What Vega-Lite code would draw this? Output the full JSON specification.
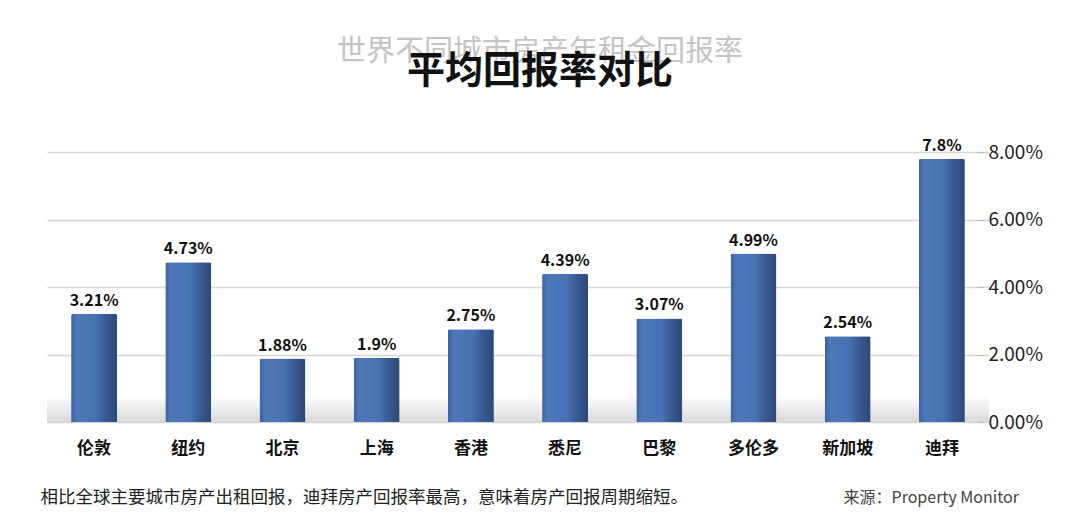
{
  "$schema": "https://vega.github.io/schema/vega-lite/v6.json",
  "autosize": "none",
  "width": 942,
  "height": 270,
  "padding": {"left": 47, "top": 152, "right": 91, "bottom": 92},
  "background": "white",
  "config": {
    "view": {"stroke": null},
    "font": "Noto Sans CJK SC"
  },
  "title": {
    "text": "世界不同城市房产年租金回报率",
    "subtitle": "平均回报率对比",
    "anchor": "middle",
    "dx": 22,
    "offset": 47,
    "fontSize": 29,
    "fontWeight": "normal",
    "color": "#c4c4c4",
    "subtitleFontSize": 38,
    "subtitleFontWeight": "bold",
    "subtitleColor": "#111111",
    "subtitlePadding": -14
  },
  "data": {
    "values": [
      {"city": "伦敦", "rate": 3.21, "label": "3.21%"},
      {"city": "纽约", "rate": 4.73, "label": "4.73%"},
      {"city": "北京", "rate": 1.88, "label": "1.88%"},
      {"city": "上海", "rate": 1.9, "label": "1.9%"},
      {"city": "香港", "rate": 2.75, "label": "2.75%"},
      {"city": "悉尼", "rate": 4.39, "label": "4.39%"},
      {"city": "巴黎", "rate": 3.07, "label": "3.07%"},
      {"city": "多伦多", "rate": 4.99, "label": "4.99%"},
      {"city": "新加坡", "rate": 2.54, "label": "2.54%"},
      {"city": "迪拜", "rate": 7.8, "label": "7.8%"}
    ]
  },
  "encoding": {
    "y": {
      "field": "rate",
      "type": "quantitative",
      "scale": {"domain": [0, 8]},
      "axis": {
        "orient": "right",
        "offset": -12,
        "values": [0, 2, 4, 6, 8],
        "labelExpr": "format(datum.value, '.2f') + '%'",
        "labelFontSize": 19,
        "labelColor": "#222222",
        "labelPadding": 4,
        "tickSize": 7,
        "tickColor": "#bbbbbb",
        "domain": false,
        "grid": true,
        "gridColor": "#d6d6d6",
        "gridWidth": 1.5,
        "title": "来源：Property Monitor",
        "titleAngle": 0,
        "titleFontSize": 16,
        "titleFontWeight": "normal",
        "titleColor": "#444444",
        "titleAlign": "left",
        "titleBaseline": "middle",
        "titleX": -134,
        "titleY": 345
      }
    }
  },
  "layer": [
    {
      "mark": {
        "type": "rect",
        "color": {
          "gradient": "linear",
          "x1": 0, "y1": 0, "x2": 0, "y2": 1,
          "stops": [
            {"offset": 0, "color": "#ffffff"},
            {"offset": 1, "color": "#d9d9d9"}
          ]
        },
        "opacity": 0.6
      },
      "encoding": {
        "y": {"datum": 0.8, "type": "quantitative"},
        "y2": {"datum": 0}
      }
    },
    {
      "mark": {
        "type": "bar",
        "size": 46,
        "cornerRadiusTopLeft": 2,
        "cornerRadiusTopRight": 2,
        "color": {
          "gradient": "linear",
          "x1": 0, "y1": 0, "x2": 1, "y2": 0,
          "stops": [
            {"offset": 0, "color": "#3c62a0"},
            {"offset": 0.12, "color": "#4d77b8"},
            {"offset": 0.55, "color": "#4871b2"},
            {"offset": 0.72, "color": "#3a5d97"},
            {"offset": 1, "color": "#2c4878"}
          ]
        }
      },
      "encoding": {
        "x": {
          "field": "city",
          "type": "nominal",
          "sort": null,
          "scale": {"paddingInner": 0, "paddingOuter": 0},
          "axis": {
            "title": "相比全球主要城市房产出租回报，迪拜房产回报率最高，意味着房产回报周期缩短。",
            "titleFontSize": 17.5,
            "titleFontWeight": "normal",
            "titleColor": "#222222",
            "titleAnchor": "start",
            "titleAlign": "left",
            "titleBaseline": "middle",
            "titleX": -7,
            "titleY": 75,
            "labelAngle": 0,
            "labelFontSize": 17,
            "labelFontWeight": "bold",
            "labelColor": "#111111",
            "labelPadding": 18,
            "labelDx": 12,
            "ticks": false,
            "domain": false,
            "grid": false
          }
        }
      }
    },
    {
      "mark": {
        "type": "text",
        "baseline": "bottom",
        "dy": -5,
        "fontSize": 16,
        "fontWeight": "bold",
        "color": "#111111"
      },
      "encoding": {
        "x": {"field": "city", "type": "nominal", "sort": null},
        "text": {"field": "label"}
      }
    }
  ]
}
